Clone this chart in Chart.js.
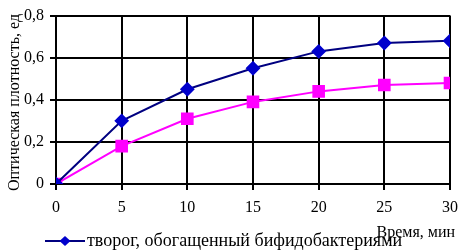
<!DOCTYPE html>
<html><head><meta charset="utf-8">
<script src="https://cdn.jsdelivr.net/npm/chart.js@4/dist/chart.umd.min.js"></script>
<style>html,body{margin:0;padding:0;background:#fff}#w{width:466px;height:251px}</style>
</head><body><div id="w"><canvas id="c"></canvas></div>
<script>
const categories = [0, 5, 10, 15, 20, 25, 30];
const seriesBifido = [0, 0.30, 0.45, 0.55, 0.63, 0.67, 0.68];
const seriesSecond = [0, 0.18, 0.31, 0.39, 0.44, 0.47, 0.48];
const yTicks = [0, 0.2, 0.4, 0.6, 0.8];
const legendLabel = 'творог, обогащенный бифидобактериями';
const xTitle = 'Время, мин';
const yTitle = 'Оптическая плотность, ед';
const FONT = '"Liberation Serif", "Times New Roman", serif';

const texts = {
  id: 'texts',
  afterDraw(chart) {
    const ctx = chart.ctx;
    ctx.save();
    ctx.fillStyle = '#000';
    ctx.font = '16px ' + FONT;
    ctx.save();
    ctx.translate(15, 191);
    ctx.rotate(-Math.PI / 2);
    ctx.textAlign = 'left';
    ctx.textBaseline = 'middle';
    ctx.fillText(yTitle, 0, 0);
    ctx.restore();
    ctx.textAlign = 'right';
    ctx.textBaseline = 'middle';
    ctx.fillText(xTitle, 455, 233);
    const ds = chart.data.datasets[0];
    ctx.strokeStyle = ds.borderColor;
    ctx.lineWidth = 2;
    ctx.beginPath(); ctx.moveTo(45, 241); ctx.lineTo(85, 241); ctx.stroke();
    ctx.fillStyle = ds.pointBackgroundColor;
    ctx.beginPath();
    ctx.moveTo(65, 236); ctx.lineTo(70.5, 241); ctx.lineTo(65, 246); ctx.lineTo(59.5, 241); ctx.closePath();
    ctx.fill();
    ctx.fillStyle = '#000';
    ctx.font = '18px ' + FONT;
    ctx.textAlign = 'left';
    ctx.textBaseline = 'alphabetic';
    ctx.fillText(legendLabel, 87, 246);
    ctx.restore();
  }
};

new Chart(document.getElementById('c'), {
  type: 'line',
  data: {
    labels: categories,
    datasets: [
      { label: legendLabel, data: categories.map((x, i) => ({ x, y: seriesBifido[i] })), borderColor: '#000080', borderWidth: 2,
        pointStyle: 'rectRot', pointRadius: 6, pointBackgroundColor: '#0000cc', pointBorderColor: '#0000cc', tension: 0 },
      { label: 'second', data: categories.map((x, i) => ({ x, y: seriesSecond[i] })), borderColor: '#ff00ff', borderWidth: 2,
        pointStyle: 'rect', pointRadius: 7.5, pointBackgroundColor: '#ff00ff', pointBorderColor: '#ff00ff', tension: 0 }
    ]
  },
  options: {
    responsive: true, maintainAspectRatio: false, animation: false,
    layout: { padding: { top: 6, right: 8, left: 0, bottom: 0 } },
    plugins: { legend: { display: false }, tooltip: { enabled: false } },
    scales: {
      x: {
        type: 'linear', min: 0, max: 30,
        afterFit(s) { s.height = 67; },
        grid: { display: true, color: '#000000', lineWidth: 2, tickLength: 6, drawTicks: true, drawOnChartArea: true },
        border: { display: true, color: '#000000', width: 2 },
        ticks: { stepSize: 5, color: '#000', font: { family: FONT, size: 16 }, padding: 8, maxRotation: 0 }
      },
      y: {
        type: 'linear', min: yTicks[0], max: yTicks[yTicks.length - 1],
        afterFit(s) { s.width = 56; },
        grid: { display: true, color: '#000000', lineWidth: 2, tickLength: 6, drawTicks: true, drawOnChartArea: true },
        border: { display: true, color: '#000000', width: 2 },
        ticks: { stepSize: 0.2, color: '#000', font: { family: FONT, size: 16 }, padding: 6,
          callback: v => v === 0 ? '0' : v.toFixed(1).replace('.', ',') }
      }
    }
  },
  plugins: [texts]
});
</script></body></html>
